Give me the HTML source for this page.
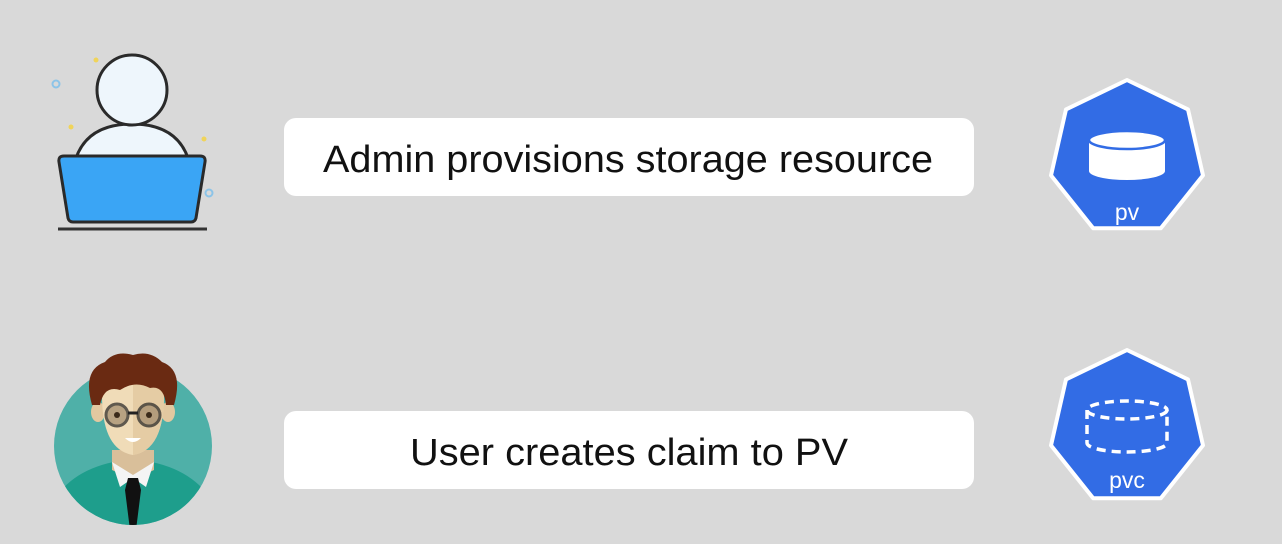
<!DOCTYPE html>
<html><head><meta charset="utf-8"><style>
html,body{margin:0;padding:0;background:#d9d9d9;}
svg{display:block}
</style></head><body>
<svg width="1282" height="544" viewBox="0 0 1282 544" xmlns="http://www.w3.org/2000/svg">
<rect width="1282" height="544" fill="#d9d9d9"/>
<!-- text boxes -->
<rect x="284" y="118" width="690" height="78" rx="12" fill="#fff"/>
<text x="323" y="172" font-family="Liberation Sans, sans-serif" font-size="38" fill="#111" textLength="610" lengthAdjust="spacingAndGlyphs">Admin provisions storage resource</text>
<rect x="284" y="411" width="690" height="78" rx="12" fill="#fff"/>
<text x="410" y="465" font-family="Liberation Sans, sans-serif" font-size="38" fill="#111" textLength="438" lengthAdjust="spacingAndGlyphs">User creates claim to PV</text>

<!-- admin icon -->
<circle cx="56" cy="84" r="3.5" fill="none" stroke="#8cc4e8" stroke-width="2"/>
<circle cx="209" cy="193" r="3.5" fill="none" stroke="#8cc4e8" stroke-width="2"/>
<circle cx="96" cy="60" r="2.5" fill="#f0d45a"/>
<circle cx="71" cy="127" r="2.5" fill="#f0d45a"/>
<circle cx="204" cy="139" r="2.5" fill="#f0d45a"/>
<path d="M76 158 Q88 124 132 124 Q176 124 188 158 Z" fill="#eef6fc" stroke="#2a2a2a" stroke-width="3"/>
<circle cx="132" cy="90" r="35" fill="#eef6fc" stroke="#2a2a2a" stroke-width="3"/>
<path d="M64 156 L200 156 Q206 156 205 162 L196 218 Q195 222 191 222 L73 222 Q69 222 68 218 L59 162 Q58 156 64 156 Z" fill="#3aa5f5" stroke="#2a2a2a" stroke-width="3"/>
<line x1="58" y1="229" x2="207" y2="229" stroke="#333" stroke-width="3"/>

<!-- user avatar -->
<clipPath id="cc"><circle cx="133" cy="446" r="79"/></clipPath>
<circle cx="133" cy="446" r="79" fill="#4fb0a8"/>
<g clip-path="url(#cc)">
<path d="M40 540 Q50 470 125 460 L140 460 Q215 470 226 540 Z" fill="#1e9e8c"/>
<path d="M112 450 L112 470 L133 480 L154 470 L154 450 Z" fill="#d9bf9a"/>
<path d="M112 462 L120 487 L133 478 L146 487 L154 462 L133 475 Z" fill="#f4f4f4"/>
<path d="M128 478 L138 478 L141 490 L136 530 L130 530 L125 490 Z" fill="#111"/>
</g>
<ellipse cx="98" cy="412" rx="7" ry="10" fill="#e2c8a0"/>
<ellipse cx="168" cy="412" rx="7" ry="10" fill="#e2c8a0"/>
<path d="M102 395 Q102 450 133 455 Q164 450 164 395 Q164 378 133 378 Q102 378 102 395 Z" fill="#f0dcb8"/>
<path d="M133 378 Q164 378 164 395 Q164 450 133 455 Z" fill="#e5cca4"/>
<path d="M92 405 Q82 370 105 362 Q115 350 133 355 Q150 350 162 362 Q184 370 174 405 L166 405 Q164 385 150 388 Q135 380 120 390 Q104 385 100 405 Z" fill="#6a2a12"/>
<circle cx="117" cy="415" r="11" fill="#a08a6c" opacity="0.7" stroke="#222" stroke-width="3"/>
<circle cx="149" cy="415" r="11" fill="#a08a6c" opacity="0.7" stroke="#222" stroke-width="3"/>
<line x1="128" y1="413" x2="138" y2="413" stroke="#222" stroke-width="3"/>
<circle cx="117" cy="415" r="3" fill="#3a2a1a"/><circle cx="149" cy="415" r="3" fill="#3a2a1a"/>
<path d="M125 438 Q133 446 141 438 Z" fill="#fff"/>

<!-- pv heptagon -->
<g transform="translate(1127,158)">
<polygon points="0,-78 61,-48.6 76,17.4 33.8,70.3 -33.8,70.3 -76,17.4 -61,-48.6" fill="#326ce5" stroke="#fff" stroke-width="4" stroke-linejoin="round"/>
<path d="M-38 -18 L-38 13 A38 9 0 0 0 38 13 L38 -18 Z" fill="#fff"/>
<ellipse cx="0" cy="-18" rx="38" ry="9" fill="#fff" stroke="#326ce5" stroke-width="2.5"/>
<text x="0" y="62" text-anchor="middle" font-family="Liberation Sans, sans-serif" font-size="23" fill="#fff">pv</text>
</g>
<!-- pvc heptagon -->
<g transform="translate(1127,428)">
<polygon points="0,-78 61,-48.6 76,17.4 33.8,70.3 -33.8,70.3 -76,17.4 -61,-48.6" fill="#326ce5" stroke="#fff" stroke-width="4" stroke-linejoin="round"/>
<g fill="none" stroke="#fff" stroke-width="3.5" stroke-dasharray="9 6">
<ellipse cx="0" cy="-18" rx="40" ry="9"/>
<path d="M-40 -18 L-40 15 A40 9 0 0 0 40 15 L40 -18"/>
</g>
<text x="0" y="60" text-anchor="middle" font-family="Liberation Sans, sans-serif" font-size="23" fill="#fff">pvc</text>
</g>
</svg>
</body></html>
